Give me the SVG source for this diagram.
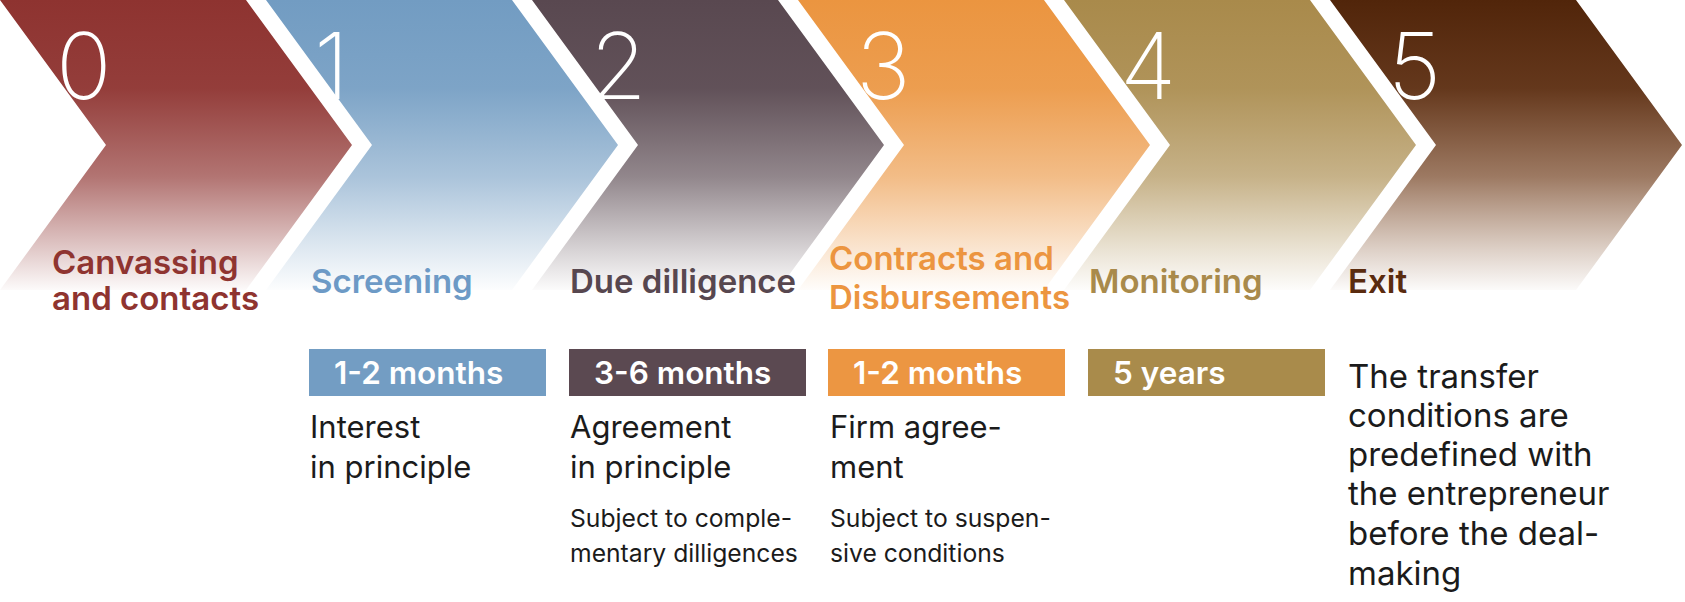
<svg xmlns="http://www.w3.org/2000/svg" width="1685" height="602" viewBox="0 0 1685 602">
<style>
.num{font-family:Inter,"Lato","Open Sans",sans-serif;font-weight:200;font-size:92px;fill:#fff}
.ttl{font-family:Inter,"Lato","Open Sans",sans-serif;font-weight:600;font-size:33px}
.box{font-family:Inter,"Lato","Open Sans",sans-serif;font-weight:600;font-size:31.5px;fill:#fff}
.desc{font-family:Inter,"Lato","Open Sans",sans-serif;font-weight:400;font-size:31px;fill:#1b1b1b}
.small{font-family:Inter,"Lato","Open Sans",sans-serif;font-weight:400;font-size:24.7px;fill:#1b1b1b}
.exit{font-family:Inter,"Lato","Open Sans",sans-serif;font-weight:400;font-size:33px;fill:#1b1b1b}
</style>
<defs>
<linearGradient id="g0" gradientUnits="userSpaceOnUse" x1="0" y1="0" x2="0" y2="294"><stop offset="0" stop-color="#8e3330"/><stop offset="0.3" stop-color="#8e3330" stop-opacity="0.95"/><stop offset="0.6" stop-color="#8e3330" stop-opacity="0.68"/><stop offset="0.85" stop-color="#8e3330" stop-opacity="0.26"/><stop offset="1" stop-color="#8e3330" stop-opacity="0"/></linearGradient>
<linearGradient id="g1" gradientUnits="userSpaceOnUse" x1="0" y1="0" x2="0" y2="294"><stop offset="0" stop-color="#729cc2"/><stop offset="0.3" stop-color="#729cc2" stop-opacity="0.92"/><stop offset="0.6" stop-color="#729cc2" stop-opacity="0.6"/><stop offset="0.85" stop-color="#729cc2" stop-opacity="0.22"/><stop offset="1" stop-color="#729cc2" stop-opacity="0"/></linearGradient>
<linearGradient id="g2" gradientUnits="userSpaceOnUse" x1="0" y1="0" x2="0" y2="294"><stop offset="0" stop-color="#594850"/><stop offset="0.3" stop-color="#594850" stop-opacity="0.95"/><stop offset="0.6" stop-color="#594850" stop-opacity="0.66"/><stop offset="0.85" stop-color="#594850" stop-opacity="0.24"/><stop offset="1" stop-color="#594850" stop-opacity="0"/></linearGradient>
<linearGradient id="g3" gradientUnits="userSpaceOnUse" x1="0" y1="0" x2="0" y2="294"><stop offset="0" stop-color="#eb9540"/><stop offset="0.3" stop-color="#eb9540" stop-opacity="0.92"/><stop offset="0.6" stop-color="#eb9540" stop-opacity="0.63"/><stop offset="0.85" stop-color="#eb9540" stop-opacity="0.24"/><stop offset="1" stop-color="#eb9540" stop-opacity="0"/></linearGradient>
<linearGradient id="g4" gradientUnits="userSpaceOnUse" x1="0" y1="0" x2="0" y2="294"><stop offset="0" stop-color="#a98a4b"/><stop offset="0.3" stop-color="#a98a4b" stop-opacity="0.92"/><stop offset="0.6" stop-color="#a98a4b" stop-opacity="0.66"/><stop offset="0.85" stop-color="#a98a4b" stop-opacity="0.24"/><stop offset="1" stop-color="#a98a4b" stop-opacity="0"/></linearGradient>
<linearGradient id="g5" gradientUnits="userSpaceOnUse" x1="0" y1="0" x2="0" y2="294"><stop offset="0" stop-color="#51250a"/><stop offset="0.3" stop-color="#5c2d10" stop-opacity="0.95"/><stop offset="0.6" stop-color="#6e3a18" stop-opacity="0.68"/><stop offset="0.85" stop-color="#7a4520" stop-opacity="0.25"/><stop offset="1" stop-color="#7a4520" stop-opacity="0"/></linearGradient>
</defs>
<rect width="1685" height="602" fill="#fff"/>
<g id="connectors"/>
<g id="stage0">
<polygon points="0,0 246,0 352,145 246,290 0,290 106,145" fill="url(#g0)"/>
<text class="num" x="56" y="99">0</text>
<text class="ttl" fill="#8f3430" x="52" y="274">Canvassing</text>
<text class="ttl" fill="#8f3430" x="52" y="310">and contacts</text>
</g>
<g id="stage1">
<polygon points="266,0 512,0 618,145 512,290 266,290 372,145" fill="url(#g1)"/>
<text class="num" x="314" y="99">1</text>
<text class="ttl" fill="#6d9ac6" x="311" y="293">Screening</text>
<rect x="309" y="349" width="237" height="47" fill="#739dc3"/>
<text class="box" x="334" y="384">1-2 months</text>
<text class="desc" x="310" y="438">Interest</text>
<text class="desc" x="310" y="478">in principle</text>
</g>
<g id="stage2">
<polygon points="532,0 778,0 884,145 778,290 532,290 638,145" fill="url(#g2)"/>
<text class="num" x="590" y="99">2</text>
<text class="ttl" fill="#57474f" x="570" y="293">Due dilligence</text>
<rect x="569" y="349" width="237" height="47" fill="#5b4951"/>
<text class="box" x="594" y="384">3-6 months</text>
<text class="desc" x="570" y="438">Agreement</text>
<text class="desc" x="570" y="478">in principle</text>
<text class="small" x="570" y="527">Subject to comple-</text>
<text class="small" x="570" y="562">mentary dilligences</text>
</g>
<g id="stage3">
<polygon points="798,0 1044,0 1150,145 1044,290 798,290 904,145" fill="url(#g3)"/>
<text class="num" x="856" y="99">3</text>
<text class="ttl" fill="#ec9540" x="829" y="270">Contracts and</text>
<text class="ttl" fill="#ec9540" x="829" y="309">Disbursements</text>
<rect x="828" y="349" width="237" height="47" fill="#ec9642"/>
<text class="box" x="853" y="384">1-2 months</text>
<text class="desc" x="830" y="438">Firm agree-</text>
<text class="desc" x="830" y="478">ment</text>
<text class="small" x="830" y="527">Subject to suspen-</text>
<text class="small" x="830" y="562">sive conditions</text>
</g>
<g id="stage4">
<polygon points="1064,0 1310,0 1416,145 1310,290 1064,290 1170,145" fill="url(#g4)"/>
<text class="num" x="1120" y="99">4</text>
<text class="ttl" fill="#a98a4b" x="1089" y="293">Monitoring</text>
<rect x="1088" y="349" width="237" height="47" fill="#a98b4b"/>
<text class="box" x="1113" y="384">5 years</text>
</g>
<g id="stage5">
<polygon points="1330,0 1576,0 1682,145 1576,290 1330,290 1436,145" fill="url(#g5)"/>
<text class="num" x="1388" y="99">5</text>
<text class="ttl" fill="#5a2b0e" x="1348" y="293">Exit</text>
<text class="exit" x="1348" y="388">The transfer</text>
<text class="exit" x="1348" y="427">conditions are</text>
<text class="exit" x="1348" y="466">predefined with</text>
<text class="exit" x="1348" y="505">the entrepreneur</text>
<text class="exit" x="1348" y="545">before the deal-</text>
<text class="exit" x="1348" y="585">making</text>
</g>
</svg>
